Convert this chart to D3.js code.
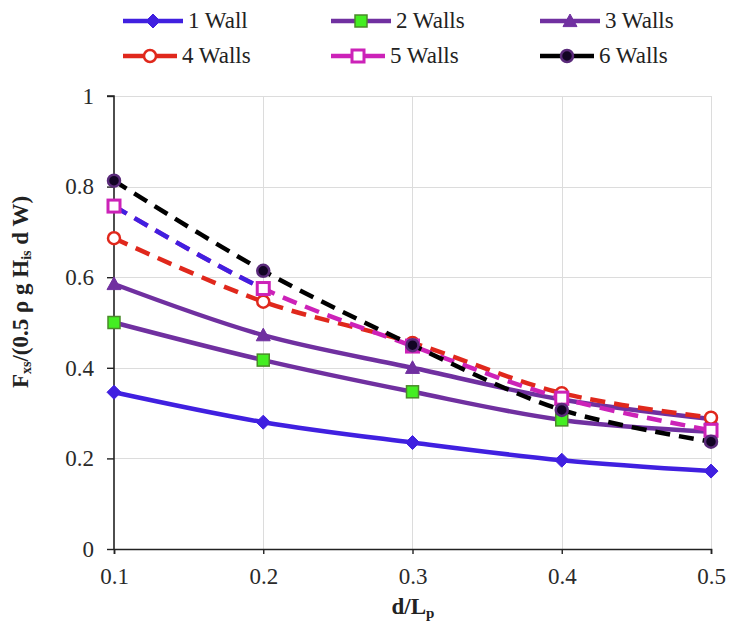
<!DOCTYPE html>
<html>
<head>
<meta charset="utf-8">
<script src="https://cdn.jsdelivr.net/npm/d3@7"></script>
</head>
<body style="margin:0">
<svg id="chart" width="729" height="636"></svg>
<script>
// Relative distance d/Lp on the x axis
const xValues = [0.1, 0.2, 0.3, 0.4, 0.5];
const xTicks = [0.1, 0.2, 0.3, 0.4, 0.5];
const yTicks = [0, 0.2, 0.4, 0.6, 0.8, 1];

// Normalised force for each number of walls
const seriesNames = ["1 Wall", "2 Walls", "3 Walls", "4 Walls", "5 Walls", "6 Walls"];
const wall1 = [0.346, 0.280, 0.235, 0.196, 0.172];
const wall2 = [0.500, 0.417, 0.347, 0.285, 0.259];
const wall3 = [0.585, 0.472, 0.400, 0.330, 0.287];
const wall4 = [0.686, 0.546, 0.455, 0.344, 0.290];
const wall5 = [0.757, 0.575, 0.448, 0.333, 0.262];
const wall6 = [0.813, 0.614, 0.450, 0.307, 0.237];
const seriesValues = [wall1, wall2, wall3, wall4, wall5, wall6];

// Line and marker styles per series
const styles = [
  { stroke: "#4020e0", dash: null, marker: "diamond", fill: "#4020e0", mstroke: "#4020e0" },
  { stroke: "#7030a0", dash: null, marker: "square", fill: "#44ee22", mstroke: "#4a8a2a" },
  { stroke: "#7030a0", dash: null, marker: "triangle", fill: "#7030a0", mstroke: "#7030a0" },
  { stroke: "#e0281c", dash: "15,9", marker: "circle", fill: "#ffffff", mstroke: "#e0281c" },
  { stroke: "#cc22b8", dash: "15,9", marker: "square", fill: "#ffffff", mstroke: "#cc22b8", firstSegment: "#4020e0" },
  { stroke: "#000000", dash: "15,9", marker: "circle", fill: "#120424", mstroke: "#5a2a7a" }
];

const svg = d3.select("#chart");
const margin = { left: 114, right: 18, top: 96, bottom: 87 };
const W = 729, H = 636;
const FONT = '"Liberation Serif", Tinos, "Times New Roman"';

// every label uses the serif face
function serif(sel) { return sel.style("font-family", FONT, "important"); }

const x = d3.scaleLinear().domain([0.1, 0.5]).range([margin.left, W - margin.right]);
const y = d3.scaleLinear().domain([0, 1]).range([H - margin.bottom, margin.top]);

// Gridlines
const grid = svg.append("g").attr("stroke", "#dcdcdc").attr("stroke-width", 1);
yTicks.filter(t => t > 0).forEach(t => {
  grid.append("line").attr("x1", x(0.1)).attr("x2", x(0.5))
    .attr("y1", Math.round(y(t)) + 0.5).attr("y2", Math.round(y(t)) + 0.5);
});
xTicks.filter(t => t > 0.1).forEach(t => {
  grid.append("line").attr("y1", y(0)).attr("y2", y(1))
    .attr("x1", Math.round(x(t)) + 0.5).attr("x2", Math.round(x(t)) + 0.5);
});

// Axes
const xAxis = d3.axisBottom(x).tickValues(xTicks).tickSize(5).tickPadding(14)
  .tickFormat(d3.format(".1f"));
const yAxis = d3.axisLeft(y).tickValues(yTicks).tickSize(7).tickPadding(13)
  .tickFormat(d => d === 0 ? "0" : d === 1 ? "1" : d3.format(".1f")(d));

const gx = svg.append("g").attr("transform", `translate(0,${y(0)})`).call(xAxis);
const gy = svg.append("g").attr("transform", `translate(${x(0.1)},0)`).call(yAxis);
[gx, gy].forEach(g => {
  g.attr("font-size", 23);
  g.select(".domain").attr("stroke", "#222").attr("stroke-width", 1.6);
  g.selectAll(".tick line").attr("stroke", "#222").attr("stroke-width", 1.4);
  serif(g.selectAll(".tick text").attr("fill", "#2a2a2a"));
});
gy.select(".domain").attr("d", `M-7,${y(1)}H0V${y(0)}`);

// Series lines
const line = d3.line().x(d => x(d[0])).y(d => y(d[1])).curve(d3.curveCatmullRom.alpha(0.5));
const plot = svg.append("g");

function markerPath(type, size) {
  const s = size / 2;
  if (type === "diamond") return `M0,${-s}L${s},0L0,${s}L${-s},0Z`;
  if (type === "triangle") return `M0,${-s}L${s},${s * 0.8}L${-s},${s * 0.8}Z`;
  return null;
}

function drawMarker(g, type, cx, cy, st, size) {
  if (type === "circle") {
    g.append("circle").attr("cx", cx).attr("cy", cy).attr("r", size / 2 - 1)
      .attr("fill", st.fill).attr("stroke", st.mstroke).attr("stroke-width", 2.5);
  } else if (type === "square") {
    const s = size - 2;
    g.append("rect").attr("x", cx - s / 2).attr("y", cy - s / 2).attr("width", s).attr("height", s)
      .attr("fill", st.fill).attr("stroke", st.mstroke).attr("stroke-width", st.fill === "#ffffff" ? 3 : 1.5);
  } else {
    g.append("path").attr("d", markerPath(type, size))
      .attr("transform", `translate(${cx},${cy})`)
      .attr("fill", st.fill).attr("stroke", st.mstroke).attr("stroke-width", 1);
  }
}

seriesValues.forEach((vals, i) => {
  const st = styles[i];
  const pts = xValues.map((xv, j) => [xv, vals[j]]);
  const path = plot.append("path").datum(pts).attr("d", line)
    .attr("fill", "none").attr("stroke", st.stroke).attr("stroke-width", 4.5)
    .attr("stroke-linecap", "butt").attr("stroke-linejoin", "round");
  if (st.dash) path.attr("stroke-dasharray", st.dash);
  if (st.firstSegment) {
    // the opening segment of this series is drawn in a different colour
    const seg = plot.append("path").datum(pts.slice(0, 3)).attr("d", line)
      .attr("fill", "none").attr("stroke", st.firstSegment).attr("stroke-width", 4.5);
    const full = seg.node().getTotalLength();
    const tmp = plot.append("path").datum(pts.slice(0, 2))
      .attr("d", d3.line().x(d => x(d[0])).y(d => y(d[1])));
    const len = tmp.node().getTotalLength();
    tmp.remove();
    const nDash = Math.floor(len / 24);
    const pattern = d3.range(nDash).map(() => "15,9").join(",");
    seg.attr("stroke-dasharray", `${pattern},${Math.max(0, len - nDash * 24 - 3)},${full}`);
  }
  const mg = plot.append("g");
  pts.forEach(p => drawMarker(mg, st.marker, x(p[0]), y(p[1]), st, 14));
});

// Legend
const legendCols = [123, 331, 540];
const legendRows = [21, 56];
seriesNames.forEach((name, i) => {
  const st = styles[i];
  const lx = legendCols[i % 3], ly = legendRows[Math.floor(i / 3)];
  const g = svg.append("g");
  const len = i < 3 ? 60 : 54;
  g.append("line").attr("x1", lx).attr("x2", lx + len).attr("y1", ly).attr("y2", ly)
    .attr("stroke", st.stroke).attr("stroke-width", 4.5);
  drawMarker(g, st.marker, lx + len / 2, ly, st, 14);
  serif(g.append("text").attr("x", lx + len + 5).attr("y", ly + 7)
    .attr("font-size", 23).attr("fill", "#222")).text(name);
});

// Axis titles
const xt = serif(svg.append("text").attr("x", 413).attr("y", 614).attr("text-anchor", "middle")
  .attr("font-size", 23).attr("font-weight", "bold").attr("fill", "#222"));
xt.append("tspan").text("d/L");
xt.append("tspan").attr("font-size", 15).attr("dy", 4).text("p");

const yt = serif(svg.append("text").attr("transform", "translate(28,292) rotate(-90)")
  .attr("text-anchor", "middle").attr("font-size", 23).attr("font-weight", "bold")
  .attr("fill", "#222"));
yt.append("tspan").text("F");
yt.append("tspan").attr("font-size", 14).attr("dy", 3).text("xs");
yt.append("tspan").attr("dy", -3).text("/(0.5 ρ g H");
yt.append("tspan").attr("font-size", 14).attr("dy", 3).text("is");
yt.append("tspan").attr("dy", -3).text(" d W)");
</script>
</body>
</html>
